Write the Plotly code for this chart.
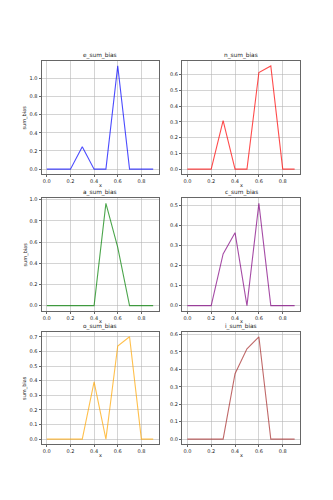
import plotly.graph_objects as go

x_vals = [0.0, 0.1, 0.2, 0.3, 0.4, 0.5, 0.6, 0.7, 0.8, 0.9]

e_sum_bias = [0, 0, 0, 0.245, 0, 0, 1.135, 0, 0, 0]
n_sum_bias = [0, 0, 0, 0.308, 0, 0, 0.613, 0.655, 0, 0]
a_sum_bias = [0, 0, 0, 0, 0, 0.965, 0.55, 0, 0, 0]
c_sum_bias = [0, 0, 0, 0.259, 0.365, 0, 0.512, 0, 0, 0]
o_sum_bias = [0, 0, 0, 0, 0.392, 0, 0.637, 0.70, 0, 0]
i_sum_bias = [0, 0, 0, 0, 0.375, 0.518, 0.587, 0, 0, 0]

titles = ["e_sum_bias", "n_sum_bias", "a_sum_bias", "c_sum_bias", "o_sum_bias", "i_sum_bias"]
series = [e_sum_bias, n_sum_bias, a_sum_bias, c_sum_bias, o_sum_bias, i_sum_bias]
colors = ["rgba(0,0,255,0.7)", "rgba(255,0,0,0.7)", "rgba(0,128,0,0.7)",
          "rgba(128,0,128,0.7)", "rgba(255,165,0,0.7)", "rgba(165,42,42,0.7)"]
ytick_steps = [0.2, 0.1, 0.2, 0.1, 0.1, 0.1]

W, H = 333, 500
col_px = [(41.5, 158.5), (182, 300)]
row_px = [(59, 173), (197, 310), (331, 444)]

fig = go.Figure()
layout = dict(width=W, height=H, margin=dict(l=0, r=0, t=0, b=0),
              paper_bgcolor="white", plot_bgcolor="white", showlegend=False)
annotations = []
tfont = dict(family="DejaVu Sans", size=5, color="#222")

for k, (title, ys, col, step) in enumerate(zip(titles, series, colors, ytick_steps)):
    r, c = divmod(k, 2)
    idx = "" if k == 0 else str(k + 1)
    x0, x1 = col_px[c]
    y0, y1 = row_px[r]
    xd = [x0 / W, x1 / W]
    yd = [1 - y1 / H, 1 - y0 / H]
    fig.add_trace(go.Scatter(x=x_vals, y=ys, mode="lines",
                             line=dict(color=col, width=1.1),
                             xaxis="x" + idx, yaxis="y" + idx, hoverinfo="skip"))
    ymax = max(ys)
    ytop = 1.05 * ymax
    nt = int(ytop / step + 1e-9)
    yticks = [round(i * step, 2) for i in range(nt + 1)]
    axcommon = dict(showgrid=True, gridcolor="rgba(176,176,176,0.55)", gridwidth=1,
                    showline=True, linecolor="#666", linewidth=1, mirror=True,
                    ticks="outside", ticklen=2, tickwidth=1, tickcolor="#666",
                    tickfont=tfont, zeroline=False, tickformat=".1f")
    layout["xaxis" + idx] = dict(axcommon, domain=xd, range=[-0.045, 0.945],
                                 tickvals=[0.0, 0.2, 0.4, 0.6, 0.8],
                                 anchor="y" + idx)
    layout["yaxis" + idx] = dict(axcommon, domain=yd,
                                 range=[-0.05 * ymax, ytop],
                                 tickvals=yticks, anchor="x" + idx)
    annotations.append(dict(text=title, x=(xd[0] + xd[1]) / 2, y=yd[1],
                            xref="paper", yref="paper", xanchor="center",
                            yanchor="bottom", yshift=0, showarrow=False,
                            font=dict(family="DejaVu Sans", size=5.8, color="#222")))
    annotations.append(dict(text="x", x=(xd[0] + xd[1]) / 2, y=1 - (y1 + 10.5) / H,
                            xref="paper", yref="paper", xanchor="center",
                            yanchor="middle", showarrow=False, font=tfont))
    if c == 0:
        annotations.append(dict(text="sum_bias", x=25 / W, y=(yd[0] + yd[1]) / 2,
                                xref="paper", yref="paper", xanchor="center",
                                yanchor="middle", textangle=-90, showarrow=False,
                                font=tfont))

layout["annotations"] = annotations
fig.update_layout(**layout)
fig.write_html("out.html")
